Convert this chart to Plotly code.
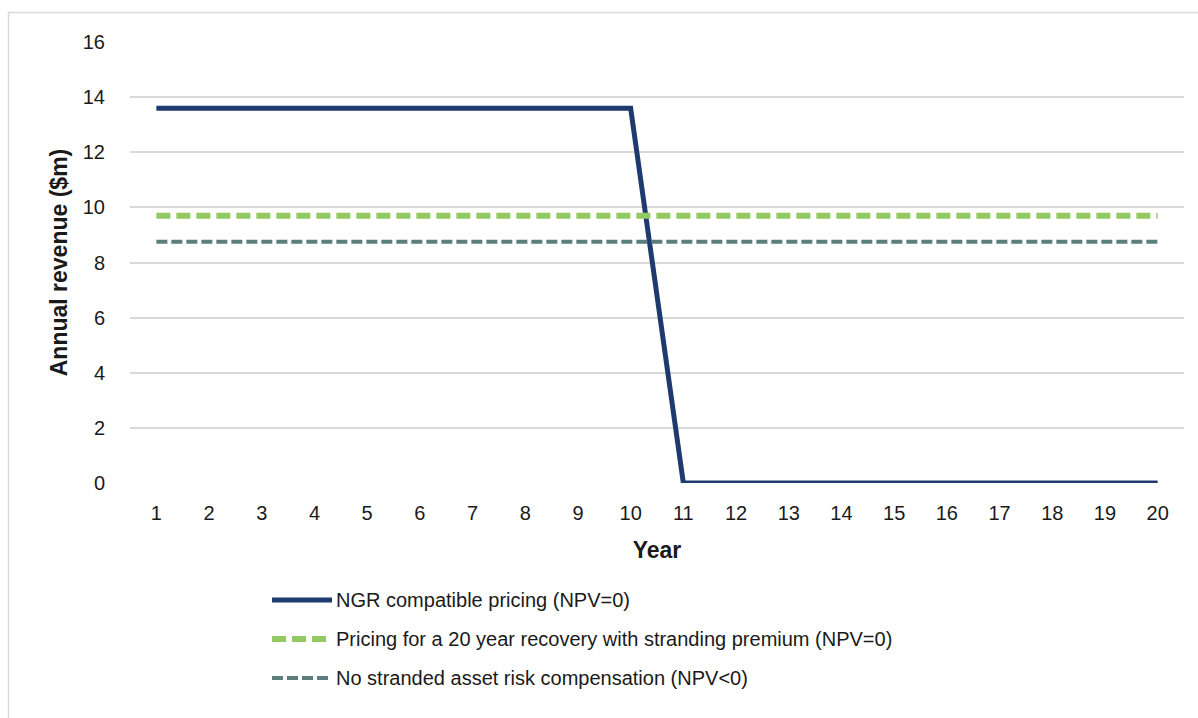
import plotly.graph_objects as go

years = [str(y) for y in range(1, 21)]
ngr_pricing = [13.6] * 10 + [0.0] * 10
premium_pricing = [9.7] * 20
no_compensation = [8.75] * 20

series_names = [
    "NGR compatible pricing (NPV=0)",
    "Pricing for a 20 year recovery with stranding premium (NPV=0)",
    "No stranded asset risk compensation (NPV<0)",
]
series_lines = [
    dict(color="#1F3A6E", width=5),
    dict(color="#93C962", width=6, dash="14px,6px"),
    dict(color="#5B7F7C", width=4, dash="11px,4px"),
]
series_values = [ngr_pricing, premium_pricing, no_compensation]

FONT = "Liberation Sans, Arial, sans-serif"
TEXT = "#1a1a1a"
W, H = 1198, 718
L, R, T, B = 130, 14, 42, 235
pw, ph = W - L - R, H - T - B


def px_x(x):
    return (x - L) / pw


def px_y(y):
    return (H - B - y) / ph


fig = go.Figure()
for name, values, line in zip(series_names, series_values, series_lines):
    fig.add_trace(go.Scatter(
        x=years, y=values, mode="lines", name=name, line=line,
        showlegend=False, hoverinfo="x+y+name",
    ))

# Legend drawn below the plot: sample line + label for each series
legend_rows = [600, 639, 678]
shapes = [dict(
    type="rect", xref="paper", yref="paper",
    x0=px_x(8.5), x1=px_x(1210), y0=px_y(730), y1=px_y(12.5),
    line=dict(color="#D9D9D9", width=1.5), fillcolor="rgba(0,0,0,0)", layer="below",
)]
annotations = []
for name, line, row in zip(series_names, series_lines, legend_rows):
    shapes.append(dict(
        type="line", xref="paper", yref="paper",
        x0=px_x(272), x1=px_x(332), y0=px_y(row), y1=px_y(row),
        line=line,
    ))
    annotations.append(dict(
        text=name, xref="paper", yref="paper",
        x=px_x(334), y=px_y(row), xanchor="left", yanchor="middle",
        showarrow=False, font=dict(family=FONT, size=20, color=TEXT),
    ))

fig.update_layout(
    width=W, height=H,
    margin=dict(l=L, r=R, t=T, b=B),
    paper_bgcolor="white", plot_bgcolor="white",
    font=dict(family=FONT, size=20, color=TEXT),
    showlegend=False,
    xaxis=dict(
        type="category", range=[-0.5, 19.5],
        showgrid=False, zeroline=False, showline=False,
        ticks="outside", ticklen=12, tickcolor="rgba(0,0,0,0)",
        tickfont=dict(family=FONT, size=20, color=TEXT),
        title=dict(text="<b>Year</b>", font=dict(family=FONT, size=23, color=TEXT), standoff=18),
        fixedrange=True,
    ),
    yaxis=dict(
        range=[0, 16], dtick=2, showgrid=True, gridcolor="#D9D9D9", gridwidth=1.5,
        zeroline=False, showline=False,
        ticks="outside", ticklen=20, tickcolor="rgba(0,0,0,0)",
        tickfont=dict(family=FONT, size=20, color=TEXT),
        title=dict(text="<b>Annual revenue ($m)</b>", font=dict(family=FONT, size=23, color=TEXT), standoff=8),
        fixedrange=True,
    ),
    shapes=shapes,
    annotations=annotations,
)

fig.write_html("out.html")
